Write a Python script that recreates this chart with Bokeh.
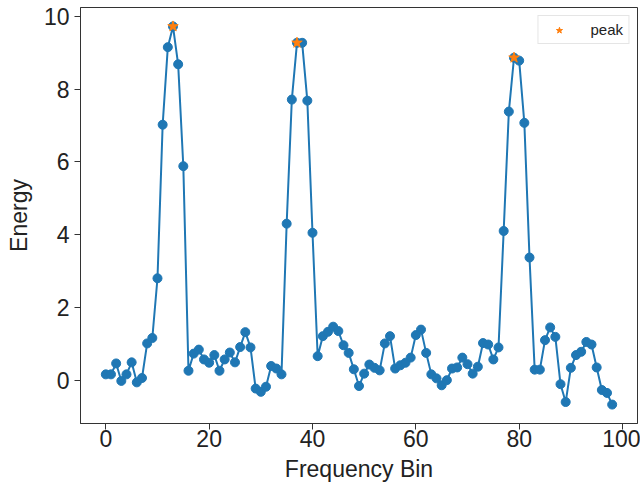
from bokeh.plotting import figure
from bokeh.models import FixedTicker, Range1d, Legend, LegendItem
from bokeh.embed import file_html
from bokeh.resources import INLINE

# Data
bins = list(range(99))
energy = [0.16, 0.16, 0.46, -0.02, 0.16, 0.49, -0.06, 0.06, 1.01, 1.16,
          2.80, 7.02, 9.15, 9.72, 8.68, 5.88, 0.26, 0.73, 0.84, 0.57,
          0.48, 0.69, 0.26, 0.57, 0.76, 0.49, 0.91, 1.32, 0.90, -0.23,
          -0.32, -0.18, 0.39, 0.32, 0.16, 4.30, 7.71, 9.27, 9.27, 7.68,
          4.05, 0.66, 1.21, 1.33, 1.47, 1.35, 0.96, 0.75, 0.30, -0.16,
          0.18, 0.43, 0.34, 0.27, 1.01, 1.21, 0.32, 0.41, 0.48, 0.62,
          1.24, 1.39, 0.75, 0.16, 0.05, -0.14, 0.00, 0.32, 0.35, 0.62,
          0.44, 0.18, 0.37, 1.02, 0.98, 0.57, 0.90, 4.10, 7.38, 8.86,
          8.78, 7.07, 3.37, 0.29, 0.29, 1.10, 1.45, 1.19, -0.11, -0.60,
          0.34, 0.69, 0.78, 1.05, 0.98, 0.35, -0.27, -0.35, -0.67]
peak_bins = [13, 37, 79]
peak_energy = [energy[i] for i in peak_bins]
x_ticks = [0, 20, 40, 60, 80, 100]
y_ticks = [0, 2, 4, 6, 8, 10]

FONT = "Liberation Sans"
BLUE = "#1f77b4"
ORANGE = "#ff7f0e"

p = figure(width=640, height=488, output_backend="svg", toolbar_location=None,
           x_range=Range1d(-4.9, 102.9), y_range=Range1d(-1.19, 10.24),
           min_border_left=80, min_border_right=3, min_border_top=7,
           min_border_bottom=65)

p.line(bins, energy, line_color=BLUE, line_width=2)
p.scatter(bins, energy, size=9, fill_color=BLUE, line_color=BLUE)
stars = p.scatter(peak_bins, peak_energy, marker="star", size=11,
                  fill_color=ORANGE, line_color=ORANGE)

legend = Legend(items=[LegendItem(label="peak", renderers=[stars])],
                location="top_right")
legend.label_text_font = FONT
legend.label_text_font_size = "15px"
legend.label_text_color = "#222222"
legend.padding = 5
legend.margin = 8
legend.glyph_width = 31
legend.glyph_height = 16
legend.label_height = 16
legend.label_standoff = 16
legend.border_line_color = "#cccccc"
legend.border_line_width = 1
legend.background_fill_color = "white"
legend.background_fill_alpha = 0.8
p.add_layout(legend)

p.grid.visible = False
p.outline_line_color = "#333333"
p.outline_line_width = 1

for ax, ticks in ((p.xaxis[0], x_ticks), (p.yaxis[0], y_ticks)):
    ax.ticker = FixedTicker(ticks=ticks)
    ax.minor_tick_line_color = None
    ax.major_tick_in = 0
    ax.major_tick_out = 6
    ax.major_tick_line_color = "#333333"
    ax.axis_line_color = "#333333"
    ax.major_label_text_font = FONT
    ax.major_label_text_font_size = "23px"
    ax.major_label_text_color = "#222222"
    ax.axis_label_text_font = FONT
    ax.axis_label_text_font_size = "23px"
    ax.axis_label_text_font_style = "normal"
    ax.axis_label_text_color = "#222222"

p.xaxis.major_label_standoff = 0
p.xaxis.axis_label_standoff = 6
p.yaxis.major_label_standoff = 5
p.yaxis.axis_label_standoff = 9

p.xaxis.axis_label = "Frequency Bin"
p.yaxis.axis_label = "Energy"

open("out.html", "w").write(file_html(p, INLINE))
